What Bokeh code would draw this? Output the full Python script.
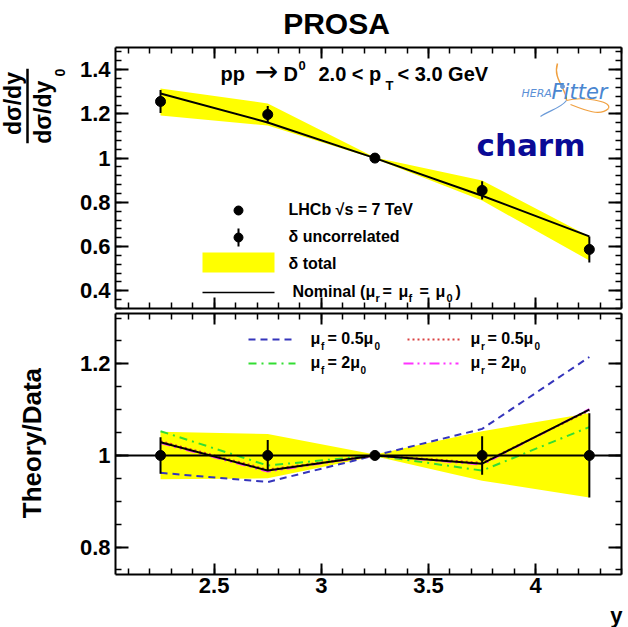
import math
import numpy as np
from bokeh.plotting import figure
from bokeh.layouts import column, row
from bokeh.models import (Label, FixedTicker, LinearAxis, CustomJSTickFormatter,
                          Range1d, Span)
from bokeh.embed import file_html
from bokeh.resources import INLINE

# ---------------- data ----------------
y_bins = [2.25, 2.75, 3.25, 3.75, 4.25]

# upper panel: normalised cross section dsigma/dy / dsigma/dy0
data_ratio = [1.256, 1.197, 1.000, 0.854, 0.587]
err_uncorr = [0.052, 0.039, 0.004, 0.041, 0.059]
band_hi = [1.315, 1.247, 1.003, 0.899, 0.646]
band_lo = [1.193, 1.147, 0.997, 0.808, 0.537]
nominal = [1.292, 1.161, 1.000, 0.830, 0.646]

# lower panel: theory / data
rel_data = [1.0, 1.0, 1.0, 1.0, 1.0]
rel_unc = [0.040, 0.034, 0.003, 0.042, 0.092]
rel_band_hi = [1.052, 1.047, 1.002, 1.053, 1.092]
rel_band_lo = [0.948, 0.950, 0.998, 0.945, 0.908]
th_nominal = [1.029, 0.967, 1.000, 0.982, 1.100]
th_muf_05 = [0.962, 0.942, 1.000, 1.058, 1.215]
th_muf_2 = [1.053, 0.978, 1.000, 0.967, 1.062]
th_mur_05 = [1.031, 0.969, 1.000, 0.984, 1.098]
th_mur_2 = [1.027, 0.965, 1.000, 0.980, 1.101]

x_major = [2.5, 3.0, 3.5, 4.0]
top_y_major = [0.4, 0.6, 0.8, 1.0, 1.2, 1.4]
bot_y_major = [0.8, 1.0, 1.2]

# ---------------- layout constants ----------------
X0, X1 = 2.04, 4.40
YT0, YT1 = 0.32, 1.50
YB0, YB1 = 0.74, 1.31
FONT = "Liberation Sans"

x_minor = [round(v, 2) for v in np.arange(2.1, 4.41, 0.1)]
top_y_minor = [round(v, 3) for v in np.arange(0.32, 1.5, 0.04)]
bot_y_minor = [round(v, 3) for v in np.arange(0.75, 1.31, 0.05)]


def tx(px):
    return X0 + (px - 115.0) / 506.0 * (X1 - X0)


def ty(py):
    return YT1 - (py - 47.0) / 261.0 * (YT1 - YT0)


def by(py):
    return YB1 - (py - 313.0) / 261.0 * (YB1 - YB0)


def ident(v):
    return v


def lab(p, fx, fy, xpx, base_px, text, size, bold=True, align="left",
        color="black", font=FONT, italic=False):
    """horizontal text whose baseline lies at page pixel base_px"""
    style = "bold" if bold else "normal"
    if italic:
        style = "bold italic" if bold else "italic"
    mid = base_px - 0.35 * size
    p.add_layout(Label(x=fx(xpx), y=fy(mid), text=text, text_font=font,
                       text_font_size=f"{size}px", text_font_style=style,
                       text_color=color, text_align=align,
                       text_baseline="middle"))


def vlab(p, xpx, ypx, text, size):
    """vertical (rotated) text centred at page pixel (xpx, ypx) in a strip"""
    p.add_layout(Label(x=xpx, y=ypx, text=text, text_font=FONT,
                       text_font_size=f"{size}px", text_font_style="bold",
                       text_color="black", text_align="center",
                       text_baseline="middle", angle=math.pi / 2))


def add_axes(p, yt, ym, xlabels):
    fmt = CustomJSTickFormatter(code="return String(Math.round(tick*10)/10);")
    for loc, ticks, minors, show in [("below", x_major, x_minor, xlabels),
                                     ("above", x_major, x_minor, False),
                                     ("left", yt, ym, True),
                                     ("right", yt, ym, False)]:
        ax = LinearAxis(ticker=FixedTicker(ticks=ticks, minor_ticks=minors))
        vertical = loc in ("left", "right")
        ax.major_tick_in = 13 if vertical else 11
        ax.minor_tick_in = 6
        ax.major_tick_out = 0
        ax.minor_tick_out = 0
        ax.axis_line_width = 2
        ax.axis_line_color = "black"
        ax.major_tick_line_width = 2
        ax.minor_tick_line_width = 1.5
        if show:
            ax.formatter = fmt
            ax.major_label_text_font = FONT
            ax.major_label_text_font_size = "22px"
            ax.major_label_text_font_style = "bold"
            ax.major_label_text_color = "black"
            ax.major_label_standoff = 5 if vertical else 3
        else:
            ax.formatter = CustomJSTickFormatter(code="return '';")
            ax.major_label_text_font_size = "0px"
            ax.major_label_standoff = 0
        p.add_layout(ax, loc)


def clean(p):
    p.outline_line_color = None
    p.background_fill_color = "white"
    p.border_fill_color = "white"
    p.xgrid.visible = False
    p.ygrid.visible = False
    p.grid.visible = False


def base_fig(w, h, yr, left, top, bottom):
    p = figure(width=w, height=h, x_range=Range1d(X0, X1), y_range=Range1d(*yr),
               output_backend="svg", toolbar_location=None, title=None,
               x_axis_location=None, y_axis_location=None,
               min_border_left=left, min_border_right=7,
               min_border_top=top, min_border_bottom=bottom)
    clean(p)
    return p


def strip(x_off, y_off, w, h):
    # a plain drawing area whose data units are the page's pixels
    s = figure(width=w, height=h, x_range=Range1d(x_off, x_off + w),
               y_range=Range1d(y_off + h, y_off), output_backend="svg",
               toolbar_location=None, title=None,
               x_axis_location=None, y_axis_location=None,
               min_border_left=0, min_border_right=0, min_border_top=0,
               min_border_bottom=0)
    clean(s)
    return s


# ================= title strip =================
s_title = strip(0, 0, 628, 40)
lab(s_title, ident, ident, 336, 33, "PROSA", 30, align="center")

# ================= upper panel =================
s_left1 = strip(0, 40, 70, 270)
vlab(s_left1, 12, 98, "dσ/dy", 23)
vlab(s_left1, 42, 107, "dσ/dy", 23)
vlab(s_left1, 59, 66, "0", 14)
s_left1.segment(x0=[27], y0=[62], x1=[27], y1=[139], line_color="black", line_width=2.5)

p1 = base_fig(558, 270, (YT0, YT1), 45, 7, 2)
add_axes(p1, top_y_major, top_y_minor, False)

p1.varea(x=y_bins, y1=band_lo, y2=band_hi, fill_color="#ffff00")
p1.line(y_bins, nominal, line_color="black", line_width=2)
p1.segment(x0=y_bins, y0=[d - e for d, e in zip(data_ratio, err_uncorr)],
           x1=y_bins, y1=[d + e for d, e in zip(data_ratio, err_uncorr)],
           line_color="black", line_width=2)
p1.scatter(y_bins, data_ratio, size=10, color="black")

# legend (upper)
p1.scatter([tx(238)], [ty(210)], size=9, color="black")
p1.segment(x0=[tx(238)], y0=[ty(228)], x1=[tx(238)], y1=[ty(246)],
           line_color="black", line_width=2)
p1.scatter([tx(238)], [ty(237)], size=9, color="black")
p1.quad(left=[tx(202)], right=[tx(274)], top=[ty(252)], bottom=[ty(272)],
        fill_color="#ffff00", line_color=None)
p1.line([tx(202), tx(274)], [ty(292), ty(292)], line_color="black", line_width=1.5)

lab(p1, tx, ty, 288, 215, "LHCb  √s = 7 TeV", 16)
lab(p1, tx, ty, 288, 242, "δ uncorrelated", 16)
lab(p1, tx, ty, 288, 269, "δ total", 16)
for xp, yp, txt, sz in [(292, 297, "Nominal (", 16), (365, 297, "μ", 16),
                        (375, 301, "r", 11), (382, 297, "=", 16),
                        (398, 297, "μ", 16), (408, 301, "f", 11),
                        (419, 297, "=", 16), (435, 297, "μ", 16),
                        (446, 301, "0", 11), (455, 297, ")", 16)]:
    lab(p1, tx, ty, xp, yp, txt, sz)

# process annotation
lab(p1, tx, ty, 220, 80, "pp", 20)
lab(p1, tx, ty, 266, 81, "→", 28, bold=False, align="center", font="DejaVu Sans")
lab(p1, tx, ty, 283, 80, "D", 20)
lab(p1, tx, ty, 298, 70, "0", 13)
lab(p1, tx, ty, 318, 80, "2.0 < p", 20)
lab(p1, tx, ty, 385, 90, "T", 13)
lab(p1, tx, ty, 397, 80, "< 3.0 GeV", 20)

# HERAFitter logo + charm
p1.bezier(x0=[tx(557)], y0=[ty(63)], x1=[tx(566)], y1=[ty(100)],
          cx0=[tx(552)], cy0=[ty(78)], cx1=[tx(566)], cy1=[ty(88)],
          line_color="#f0a040", line_width=1.5)
p1.bezier(x0=[tx(566)], y0=[ty(100)], x1=[tx(608)], y1=[ty(108)],
          cx0=[tx(580)], cy0=[ty(96)], cx1=[tx(612)], cy1=[ty(100)],
          line_color="#f0a040", line_width=1.2)
p1.bezier(x0=[tx(608)], y0=[ty(108)], x1=[tx(570)], y1=[ty(104)],
          cx0=[tx(600)], cy0=[ty(116)], cx1=[tx(585)], cy1=[ty(110)],
          line_color="#f0a040", line_width=1.2)
p1.bezier(x0=[tx(566)], y0=[ty(100)], x1=[tx(540)], y1=[ty(116)],
          cx0=[tx(560)], cy0=[ty(108)], cx1=[tx(548)], cy1=[ty(110)],
          line_color="#6a9ad8", line_width=1.2)
p1.scatter([tx(562)], [ty(86)], size=4, color="#6a9ad8")
lab(p1, tx, ty, 521, 97, "HERA", 11, bold=False, italic=True, color="#5b8fd6",
    font="DejaVu Sans")
lab(p1, tx, ty, 551, 99, "Fitter", 21, bold=False, italic=True, color="#4a86d0",
    font="DejaVu Sans")
lab(p1, tx, ty, 476, 155, "charm", 31, color="#0a0a96", font="DejaVu Sans")

# ================= lower panel =================
s_left2 = strip(0, 310, 70, 292)
vlab(s_left2, 31, 455, "Theory/Data", 26)

p2 = base_fig(558, 292, (YB0, YB1), 45, 3, 28)
add_axes(p2, bot_y_major, bot_y_minor, True)

p2.varea(x=y_bins, y1=rel_band_lo, y2=rel_band_hi, fill_color="#ffff00")
p2.add_layout(Span(location=1.0, dimension="width", line_color="black", line_width=2))
p2.line(y_bins, th_muf_05, line_color="#3535bb", line_width=2, line_dash="7 5")
p2.line(y_bins, th_muf_2, line_color="#33dd33", line_width=2, line_dash="8 5 2 5")
p2.line(y_bins, th_mur_05, line_color="#d94040", line_width=2, line_dash="2 3")
p2.line(y_bins, th_mur_2, line_color="#ff33ff", line_width=2, line_dash="10 4 2 4 2 4")
p2.line(y_bins, th_nominal, line_color="black", line_width=2)
p2.segment(x0=y_bins, y0=[d - e for d, e in zip(rel_data, rel_unc)],
           x1=y_bins, y1=[d + e for d, e in zip(rel_data, rel_unc)],
           line_color="black", line_width=2)
p2.scatter(y_bins, rel_data, size=10, color="black")

# legend (lower)
p2.line([tx(248), tx(295)], [by(339), by(339)], line_color="#3535bb", line_width=2, line_dash="7 5")
p2.line([tx(407), tx(460)], [by(339), by(339)], line_color="#d94040", line_width=2, line_dash="2 3")
p2.line([tx(248), tx(295)], [by(363), by(363)], line_color="#33dd33", line_width=2, line_dash="8 5 2 5")
p2.line([tx(403), tx(458)], [by(363), by(363)], line_color="#ff33ff", line_width=2, line_dash="10 4 2 4 2 4")

for (x0, sub, rest, xs, yb) in [(310, "f", "= 0.5μ", 374, 344), (470, "r", "= 0.5μ", 534, 344),
                                (310, "f", "= 2μ", 360, 368), (470, "r", "= 2μ", 520, 368)]:
    lab(p2, tx, by, x0, yb, "μ", 16)
    lab(p2, tx, by, x0 + 10.5, yb + 5, sub, 10)
    lab(p2, tx, by, x0 + 17, yb, rest, 16)
    lab(p2, tx, by, xs, yb + 5, "0", 10)

# ================= bottom strip (axis title) =================
s_bottom = strip(0, 602, 628, 25)
lab(s_bottom, ident, ident, 622, 622.2, "y", 22, align="right")

layout = column(s_title, row(s_left1, p1), row(s_left2, p2), s_bottom)
open("out.html", "w").write(file_html(layout, INLINE))
